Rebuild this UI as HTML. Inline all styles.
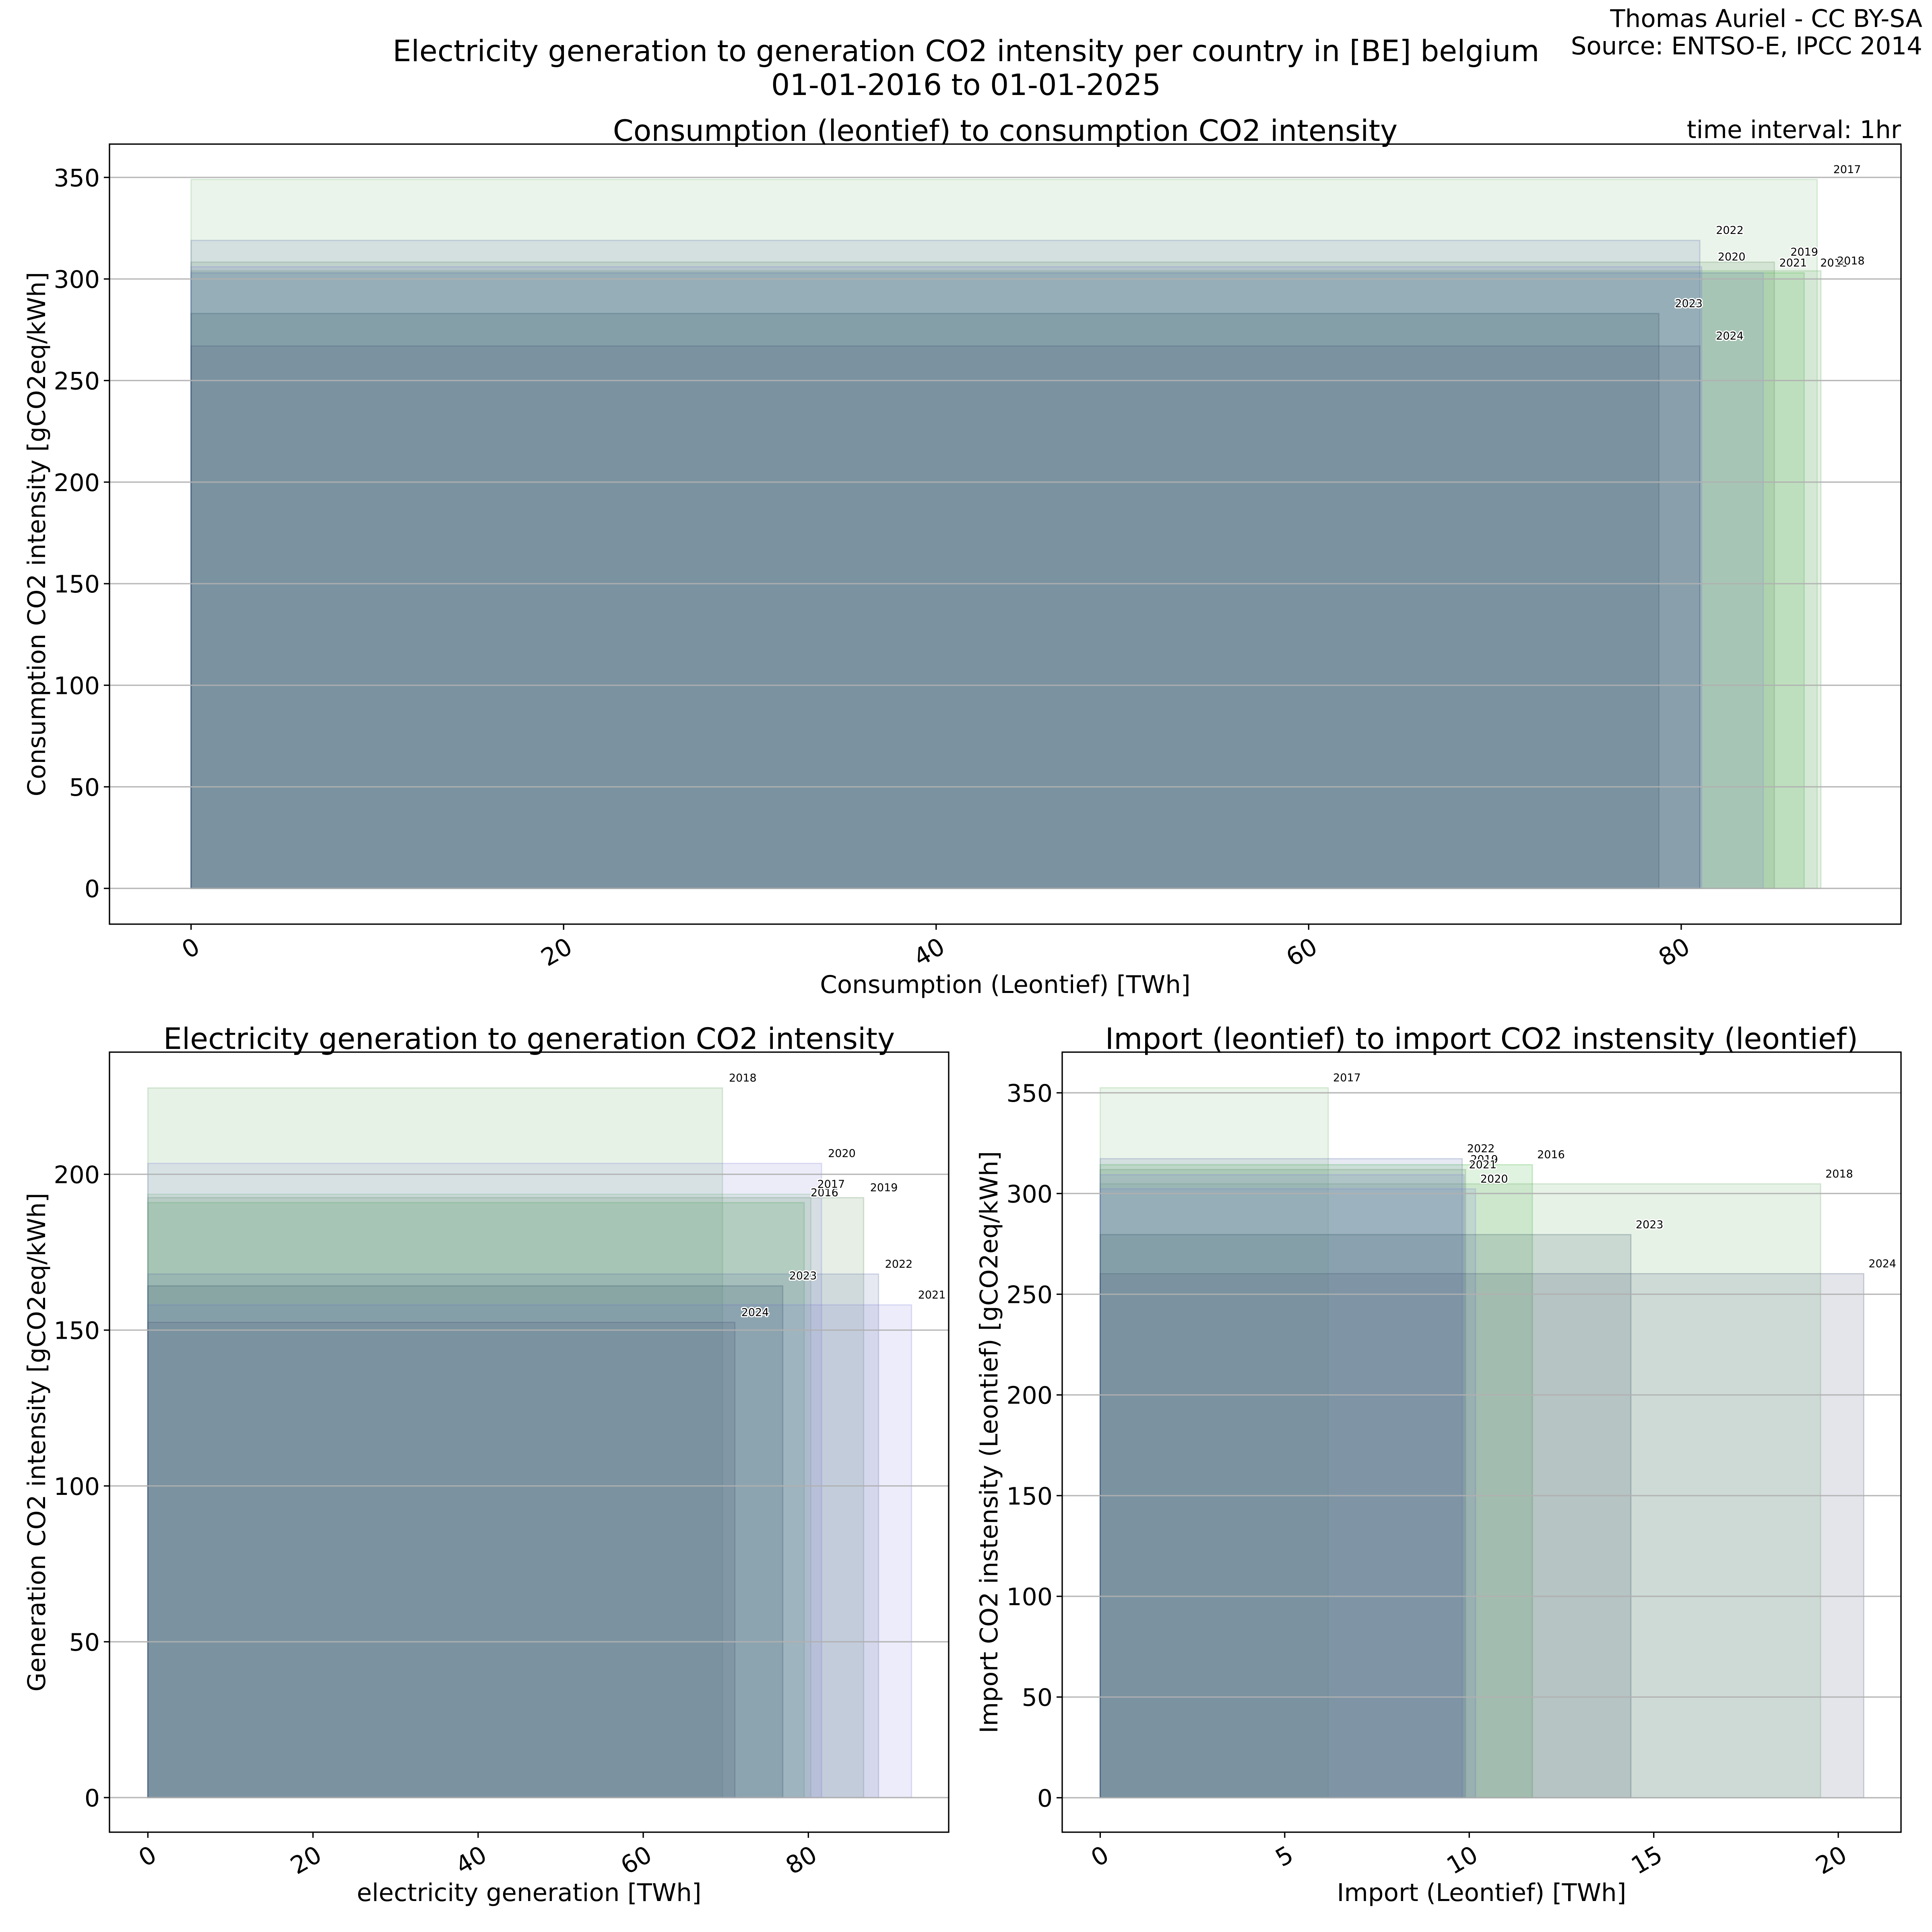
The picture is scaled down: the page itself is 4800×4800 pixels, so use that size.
<!DOCTYPE html>
<html><head><meta charset="utf-8">
<style>
html,body{margin:0;padding:0;background:#fff;}
svg{display:block;font-family:"DejaVu Sans","Liberation Sans",sans-serif;}
.yl{paint-order:stroke;stroke:#fff;stroke-width:6px;stroke-linejoin:round;}
</style></head>
<body>
<svg id="fig" width="4800" height="4800" viewBox="0 0 4800 4800" xmlns="http://www.w3.org/2000/svg">
<rect x="0" y="0" width="4800" height="4800" fill="#fff"/>
<text x="2400" y="152" font-size="73" text-anchor="middle">Electricity generation to generation CO2 intensity per country in [BE] belgium</text>
<text x="2400" y="236" font-size="73" text-anchor="middle">01-01-2016 to 01-01-2025</text>
<text x="4776" y="67" font-size="61" text-anchor="end">Thomas Auriel - CC BY-SA</text>
<text x="4776" y="135" font-size="61" text-anchor="end">Source: ENTSO-E, IPCC 2014</text>
<text x="4723" y="343" font-size="61" text-anchor="end">time interval: 1hr</text>
</svg>
<script>
const years = ["2016","2017","2018","2019","2020","2021","2022","2023","2024"];
const yearColors = ["#30b030","#70b870","#60a860","#5a8a5a","#8080d8","#8080e0","#5a6aa8","#2a4a60","#405070"];
// top chart: consumption
const consWidth = [86.6, 87.3, 87.5, 85.0, 81.1, 84.4, 81.0, 78.8, 81.0];
const consHeight = [303, 349, 304, 308.3, 306, 303, 319, 283, 267];
const consXTicks = [0, 20, 40, 60, 80];
const consYTicks = [0, 50, 100, 150, 200, 250, 300, 350];
// bottom-left: generation
const genWidth = [79.5, 80.3, 69.6, 86.7, 81.6, 92.5, 88.5, 76.9, 71.1];
const genHeight = [190.9, 193.6, 227.7, 192.5, 203.5, 158.1, 168.0, 164.2, 152.5];
const genXTicks = [0, 20, 40, 60, 80];
const genYTicks = [0, 50, 100, 150, 200];
// bottom-right: import
const impWidth = [11.71, 6.18, 19.52, 9.9, 10.17, 9.86, 9.81, 14.38, 20.69];
const impHeight = [314.3, 352.5, 304.8, 311.9, 302.3, 309.3, 317.3, 279.6, 260.2];
const impXTicks = [0, 5, 10, 15, 20];
const impYTicks = [0, 50, 100, 150, 200, 250, 300, 350];

const NS = "http://www.w3.org/2000/svg";
const fig = document.getElementById("fig");
function mk(tag, attrs, parent) {
  const e = document.createElementNS(NS, tag);
  for (const k in attrs) e.setAttribute(k, attrs[k]);
  (parent || fig).appendChild(e);
  return e;
}

function drawChart(cfg) {
  const g = mk("g", {});
  
  
  const L = cfg.left, R = cfg.right, T = cfg.top, B = cfg.bottom;
  const sx = v => L + (v - cfg.xmin) / (cfg.xmax - cfg.xmin) * (R - L);
  const sy = v => B - (v - cfg.ymin) / (cfg.ymax - cfg.ymin) * (B - T);
  // rects
  years.forEach((y, i) => {
    const w = cfg.widths[i], h = cfg.heights[i];
    const r = mk("rect", {x: sx(0), y: sy(h), width: sx(w) - sx(0), height: sy(0) - sy(h),
      fill: yearColors[i], "fill-opacity": 0.15, stroke: yearColors[i], "stroke-opacity": 0.25, "stroke-width": 3}, g);
    
    
  });
  // grid on top
  cfg.yticks.forEach(t => {
    const gl = mk("line", {x1: L, x2: R, y1: sy(t), y2: sy(t), stroke: "#b0b0b0", "stroke-width": 3.3, "stroke-opacity": 0.9}, g);
    
    
  });
  years.forEach((y, i) => {
    const t = mk("text", {x: sx(cfg.widths[i]) + cfg.lblDx, y: sy(cfg.heights[i]) - 16, "font-size": 27, class: "yl"}, g);
    t.textContent = y;
    
    
  });
  // frame
  const fr = mk("rect", {x: L, y: T, width: R - L, height: B - T, fill: "none", stroke: "#000", "stroke-width": 3.3}, g);
  
  
  // y ticks
  cfg.yticks.forEach(t => {
    const tk = mk("line", {x1: L - 14, x2: L, y1: sy(t), y2: sy(t), stroke: "#000", "stroke-width": 3.3}, g);
    
    
    const tl = mk("text", {x: L - 24, y: sy(t) + 22, "font-size": 60, "text-anchor": "end"}, g);
    tl.textContent = t;
    
    
  });
  // x ticks
  cfg.xticks.forEach(t => {
    const x = sx(t);
    const tk = mk("line", {x1: x, x2: x, y1: B, y2: B + 14, stroke: "#000", "stroke-width": 3.3}, g);
    
    
    const ax = x + 4, ay = B + 30;
    const tl = mk("text", {x: ax, y: ay, "font-size": 60, "text-anchor": "end", "dominant-baseline": "hanging",
      transform: "rotate(-30 " + ax + " " + ay + ")"}, g);
    tl.textContent = t;
    
    
  });
  const ti = mk("text", {x: (L + R) / 2, y: T - 8, "font-size": 73, "text-anchor": "middle"}, g);
  ti.textContent = cfg.title;
  
  
  const xl = mk("text", {x: (L + R) / 2, y: cfg.xlabelY, "font-size": 61, "text-anchor": "middle"}, g);
  xl.textContent = cfg.xlabel;
  
  
  const cy = (T + B) / 2;
  const yl = mk("text", {x: cfg.ylabelX, y: cy, "font-size": 61, "text-anchor": "middle",
    transform: "rotate(-90 " + cfg.ylabelX + " " + cy + ")"}, g);
  yl.textContent = cfg.ylabel;
  
  
}

drawChart({name: "consumption-chart", left: 272, right: 4723, top: 358, bottom: 2296,
  xmin: -4.38, xmax: 91.8, ymin: -17.6, ymax: 366.4,
  widths: consWidth, heights: consHeight, xticks: consXTicks, yticks: consYTicks, lblDx: 40,
  title: "Consumption (leontief) to consumption CO2 intensity",
  xlabel: "Consumption (Leontief) [TWh]", xlabelY: 2467,
  ylabel: "Consumption CO2 intensity [gCO2eq/kWh]", ylabelX: 112});
drawChart({name: "generation-chart", left: 272, right: 2357, top: 2614, bottom: 4552,
  xmin: -4.65, xmax: 97.0, ymin: -11.1, ymax: 239.2,
  widths: genWidth, heights: genHeight, xticks: genXTicks, yticks: genYTicks, lblDx: 16,
  title: "Electricity generation to generation CO2 intensity",
  xlabel: "electricity generation [TWh]", xlabelY: 4723,
  ylabel: "Generation CO2 intensity [gCO2eq/kWh]", ylabelX: 112});
drawChart({name: "import-chart", left: 2639, right: 4723, top: 2614, bottom: 4552,
  xmin: -1.03, xmax: 21.7, ymin: -17.1, ymax: 370.2,
  widths: impWidth, heights: impHeight, xticks: impXTicks, yticks: impYTicks, lblDx: 12,
  title: "Import (leontief) to import CO2 instensity (leontief)",
  xlabel: "Import (Leontief) [TWh]", xlabelY: 4723,
  ylabel: "Import CO2 instensity (Leontief) [gCO2eq/kWh]", ylabelX: 2478});
</script>
</body></html>
